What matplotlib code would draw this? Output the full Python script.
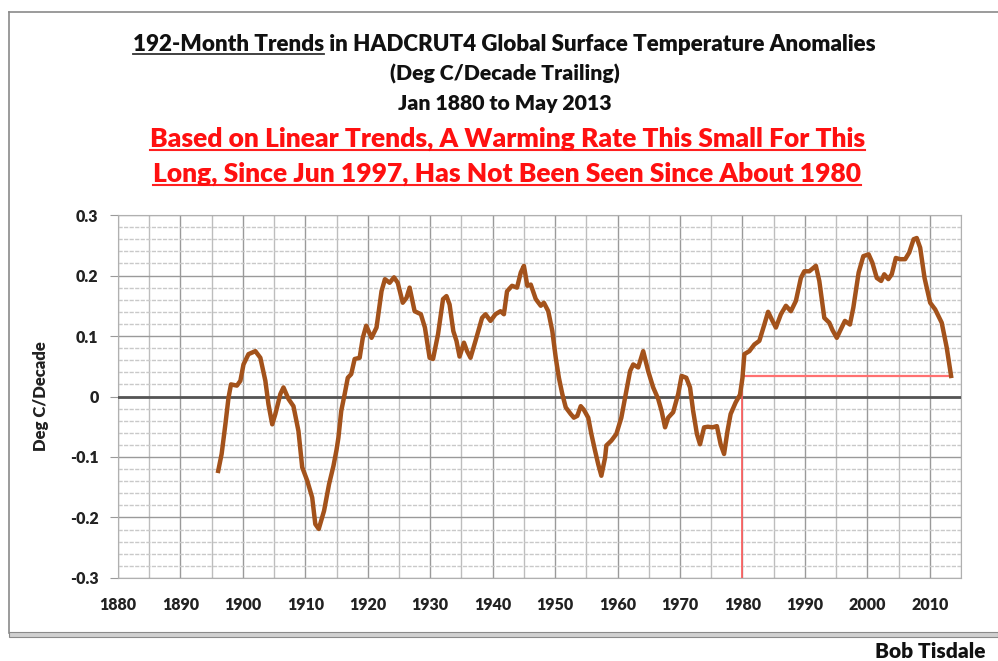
import matplotlib.pyplot as plt
from matplotlib.lines import Line2D
from matplotlib.patches import Rectangle
from matplotlib.ticker import MultipleLocator

# 192-month trailing trends (year, deg C / decade)
years = [1896.05, 1896.6, 1897.2, 1897.7, 1898.1, 1899.05, 1899.6, 1900.1, 1900.9, 1902.0,
         1902.8, 1903.6, 1904.1, 1904.7, 1905.2, 1906.0, 1906.5, 1907.3, 1908.1, 1908.9,
         1909.5, 1910.3, 1911.1, 1911.6, 1912.15, 1913.0, 1913.8, 1914.5, 1915.0, 1915.3,
         1915.75, 1916.3, 1916.8, 1917.35, 1917.9, 1918.7, 1919.2, 1919.75, 1920.6, 1921.4,
         1922.2, 1922.75, 1923.5, 1924.2, 1924.8, 1925.6, 1926.2, 1926.7, 1927.5, 1928.5,
         1929.15, 1929.9, 1930.45, 1931.25, 1932.05, 1932.6, 1933.1, 1933.7, 1934.2, 1934.7,
         1935.4, 1935.9, 1936.45, 1937.25, 1938.3, 1938.85, 1939.65, 1940.45, 1941.25, 1941.8,
         1942.3, 1943.1, 1943.9, 1944.5, 1945.0, 1945.55, 1946.1, 1946.9, 1947.7, 1948.2,
         1948.9, 1949.55, 1950.1, 1950.6, 1951.15, 1951.7, 1952.5, 1953.0, 1953.55, 1954.1,
         1954.6, 1955.3, 1955.8, 1956.4, 1956.9, 1957.4, 1958.0, 1958.2, 1959.0, 1959.8,
         1960.6, 1961.2, 1962.0, 1962.5, 1963.3, 1964.1, 1964.9, 1965.7, 1966.5, 1967.05,
         1967.6, 1968.1, 1968.9, 1969.7, 1970.25, 1971.0, 1971.6, 1972.1, 1972.7, 1973.2,
         1973.85, 1974.45, 1975.2, 1975.9, 1976.5, 1977.05, 1977.6, 1978.1, 1978.9, 1979.6,
         1980.0, 1980.3, 1981.1, 1981.9, 1982.7, 1983.5, 1984.1, 1984.8, 1985.35, 1986.15,
         1986.95, 1987.75, 1988.55, 1989.35, 1989.9, 1990.7, 1991.75, 1992.3, 1993.1, 1993.9,
         1994.4, 1995.1, 1995.6, 1996.4, 1997.2, 1997.75, 1998.6, 1999.35, 2000.2, 2000.8,
         2001.5, 2002.2, 2002.7, 2003.35, 2003.9, 2004.55, 2005.25, 2006.05, 2006.7, 2007.4,
         2007.9, 2008.45, 2009.15, 2010.05, 2010.85, 2011.9, 2012.7, 2013.4]
trends = [-0.123, -0.095, -0.046, -0.002, 0.020, 0.018, 0.026, 0.053, 0.070, 0.075,
          0.064, 0.026, -0.013, -0.046, -0.029, 0.004, 0.015, -0.004, -0.016, -0.057,
          -0.117, -0.139, -0.167, -0.211, -0.219, -0.189, -0.145, -0.115, -0.088, -0.068,
          -0.024, 0.004, 0.031, 0.037, 0.062, 0.064, 0.097, 0.117, 0.097, 0.114,
          0.174, 0.194, 0.188, 0.197, 0.188, 0.155, 0.163, 0.180, 0.141, 0.136,
          0.114, 0.064, 0.062, 0.103, 0.161, 0.166, 0.152, 0.108, 0.092, 0.066,
          0.089, 0.075, 0.064, 0.092, 0.130, 0.136, 0.125, 0.136, 0.141, 0.136,
          0.174, 0.183, 0.180, 0.205, 0.216, 0.183, 0.185, 0.161, 0.150, 0.155,
          0.141, 0.108, 0.064, 0.031, 0.004, -0.018, -0.029, -0.035, -0.032, -0.016,
          -0.022, -0.035, -0.062, -0.090, -0.112, -0.131, -0.101, -0.081, -0.073, -0.062,
          -0.035, -0.002, 0.042, 0.053, 0.048, 0.075, 0.042, 0.015, -0.004, -0.024,
          -0.051, -0.035, -0.026, 0.004, 0.034, 0.031, 0.015, -0.024, -0.062, -0.079,
          -0.051, -0.050, -0.051, -0.049, -0.079, -0.095, -0.057, -0.029, -0.010, 0.003,
          0.031, 0.070, 0.075, 0.086, 0.092, 0.119, 0.140, 0.125, 0.114, 0.136,
          0.150, 0.141, 0.158, 0.196, 0.207, 0.207, 0.216, 0.191, 0.130, 0.122,
          0.110, 0.097, 0.108, 0.125, 0.119, 0.147, 0.205, 0.232, 0.235, 0.221,
          0.196, 0.191, 0.202, 0.194, 0.202, 0.229, 0.227, 0.227, 0.238, 0.260,
          0.262, 0.246, 0.196, 0.155, 0.144, 0.122, 0.081, 0.034]

# red marker: the trend since Jun 1997 and the year it was last seen
match_year = 1980.0
match_value = 0.034
end_year = 2013.4

year_ticks = list(range(1880, 2011, 10))
value_ticks = [-0.3, -0.2, -0.1, 0.0, 0.1, 0.2, 0.3]
value_labels = ['-0.3', '-0.2', '-0.1', '0', '0.1', '0.2', '0.3']

title_lines = ["192-Month Trends in HADCRUT4 Global Surface Temperature Anomalies",
               "(Deg C/Decade Trailing)",
               "Jan 1880 to May 2013"]
red_lines = ["Based on Linear Trends, A Warming Rate This Small For This",
             "Long, Since Jun 1997, Has Not Been Seen Since About 1980"]

plt.rcParams['font.family'] = ['Lato', 'DejaVu Sans']
plt.rcParams['font.weight'] = 'heavy'

fig = plt.figure(figsize=(9.98, 6.61), dpi=100)
ax = fig.add_axes([0.1182, 0.1256, 0.8448, 0.5491])

ax.plot(years, trends, color='#a3521b', lw=3.2, solid_joinstyle='round', zorder=5)
ax.plot([match_year, match_year], [-0.3, match_value], color='#ff5a5a', lw=1.2, zorder=4)
ax.plot([match_year, end_year], [match_value, match_value], color='#ff7070', lw=1.6, zorder=4)
ax.axhline(0, color='#555555', lw=2.0, zorder=3)

ax.set_xlim(1880, 2015)
ax.set_ylim(-0.3, 0.3)
ax.set_xticks(year_ticks)
ax.set_yticks(value_ticks)
ax.set_yticklabels(value_labels)
ax.xaxis.set_minor_locator(MultipleLocator(5))
ax.yaxis.set_minor_locator(MultipleLocator(0.02))
ax.grid(which='major', axis='both', color='#9a9a9a', lw=1.0)
ax.grid(which='minor', axis='y', color='#c9c9c9', lw=1.0, ls=(0, (3, 1)))
ax.grid(which='minor', axis='x', color='#bdbdbd', lw=1.0)
ax.set_axisbelow(True)
for s in ax.spines.values():
    s.set_color('#b0b0b0')
ax.tick_params(axis='y', which='major', length=6, color='#9a9a9a', labelsize=11.5, pad=8,
               labelcolor='#222222')
ax.tick_params(axis='x', which='major', length=0, labelsize=11.5, pad=14, labelcolor='#222222')
ax.tick_params(which='minor', length=0)
ax.set_ylabel("Deg C/Decade", fontsize=12, fontweight='heavy', labelpad=15, color='#222222')

# titles
tops = [0.932, 0.888, 0.844]
sizes = [16.1, 15.3, 15.3]
texts = []
for line, y, fs in zip(title_lines, tops, sizes):
    texts.append(fig.text(0.5055, y, line, ha='center', va='center', fontsize=fs, color='#111111'))
reds = []
for line, y in zip(red_lines, [0.790, 0.737]):
    reds.append(fig.text(0.5085, y, line, ha='center', va='center', fontsize=19.0, color='#ff1010'))
fig.text(0.987, 0.0, "Bob Tisdale", ha='right', va='bottom', fontsize=15, color='#111111')

# underlines
fig.canvas.draw()
r = fig.canvas.get_renderer()
W, H = fig.bbox.width, fig.bbox.height
bb = texts[0].get_window_extent(r)
probe = fig.text(0, 0, "192-Month Trends", fontsize=sizes[0])
pw = probe.get_window_extent(r).width
probe.remove()
fig.add_artist(Line2D([bb.x0 / W, (bb.x0 + pw) / W], [(bb.y0 + 1) / H] * 2,
                      transform=fig.transFigure, color='#333333', lw=1.3))
for t in reds:
    bb = t.get_window_extent(r)
    fig.add_artist(Line2D([bb.x0 / W, bb.x1 / W], [(bb.y0 + 0.5) / H] * 2,
                          transform=fig.transFigure, color='#ff2020', lw=1.5))

# outer frame
fig.add_artist(Line2D([0.009, 0.009], [0.042, 0.982], transform=fig.transFigure, color='#8a8a8a', lw=1.2))
fig.add_artist(Line2D([0.009, 1.0], [0.982, 0.982], transform=fig.transFigure, color='#8a8a8a', lw=1.2))
fig.add_artist(Rectangle((0.009, 0.036), 0.991, 0.008, transform=fig.transFigure,
                         facecolor='#d0d0d0', edgecolor='#8a8a8a', lw=0.8))

plt.savefig("out.png", dpi=100)
